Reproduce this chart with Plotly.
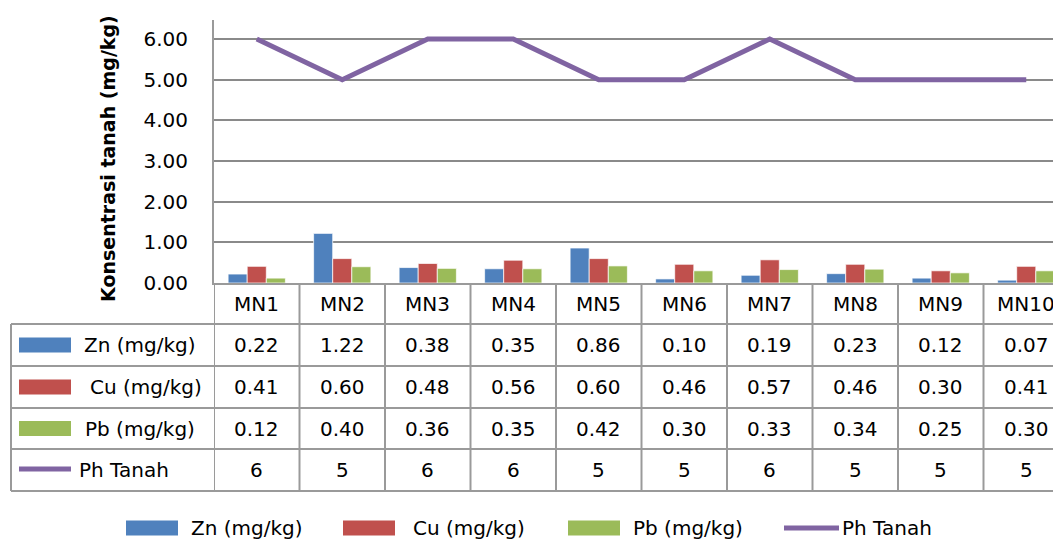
import plotly.graph_objects as go

categories = ["MN1", "MN2", "MN3", "MN4", "MN5", "MN6", "MN7", "MN8", "MN9", "MN10"]
zn = [0.22, 1.22, 0.38, 0.35, 0.86, 0.10, 0.19, 0.23, 0.12, 0.07]
cu = [0.41, 0.60, 0.48, 0.56, 0.60, 0.46, 0.57, 0.46, 0.30, 0.41]
pb = [0.12, 0.40, 0.36, 0.35, 0.42, 0.30, 0.33, 0.34, 0.25, 0.30]
ph = [6, 5, 6, 6, 5, 5, 6, 5, 5, 5]
series_names = ["Zn (mg/kg)", "Cu (mg/kg)", "Pb (mg/kg)", "Ph Tanah"]
y_title = "Konsentrasi tanah (mg/kg)"

colors = ["#4F81BD", "#C0504D", "#9BBB59", "#8064A2"]
FONT = "DejaVu Sans"
W, H = 1053, 541
L, T, B = 214, 20, 283  # plot area in pixels
n = len(categories)
xs = list(range(n))

fig = go.Figure()
for vals, name, col in zip([zn, cu, pb], series_names[:3], colors[:3]):
    fig.add_trace(go.Bar(x=xs, y=vals, name=name, marker=dict(color=col, line=dict(color="rgba(255,255,255,0.7)", width=1)),
                         showlegend=False))
fig.add_trace(go.Scatter(x=xs, y=ph, name=series_names[3], mode="lines",
                         line=dict(color=colors[3], width=5), showlegend=False))

cat_w = 85.5
x_max = -0.5 + (W - L) / cat_w


def py(p):
    return (B - p) / (B - T)


def pxp(p):
    return (p - L) / (W - L)


shapes = []
ann = []
grid = "#9a9a9a"
# table horizontal lines
row_lines = [324, 366, 408, 449, 491]
for yl in row_lines:
    shapes.append(dict(type="line", xref="paper", yref="paper", x0=pxp(11), x1=1.02, y0=py(yl), y1=py(yl),
                       line=dict(color=grid, width=2)))
# vertical lines
for i in range(n + 1):
    shapes.append(dict(type="line", xref="x", yref="paper", x0=i - 0.5, x1=i - 0.5, y0=0, y1=py(491),
                       line=dict(color=grid, width=2)))
shapes.append(dict(type="line", xref="paper", yref="paper", x0=pxp(11), x1=pxp(11), y0=py(324), y1=py(491),
                   line=dict(color=grid, width=2)))

# header labels
for i, c in enumerate(categories):
    ann.append(dict(x=i, y=py(303.5), xref="x", yref="paper", text=c, showarrow=False,
                    font=dict(family=FONT, size=20, color="#000"), xanchor="center", yanchor="middle"))

row_centers = [345, 387, 428.5, 470]
label_x = [82, 88, 83, 77]
for r, (vals, fmt) in enumerate(zip([zn, cu, pb, ph], ["{:.2f}", "{:.2f}", "{:.2f}", "{}"])):
    yc = row_centers[r]
    for i, v in enumerate(vals):
        ann.append(dict(x=i, y=py(yc), xref="x", yref="paper", text=fmt.format(v), showarrow=False,
                        font=dict(family=FONT, size=20, color="#000"), xanchor="center", yanchor="middle"))
    ann.append(dict(x=pxp(label_x[r]), y=py(yc), xref="paper", yref="paper", text=series_names[r], showarrow=False,
                    font=dict(family=FONT, size=20, color="#000"), xanchor="left", yanchor="middle"))
    if r < 3:
        shapes.append(dict(type="rect", xref="paper", yref="paper", x0=pxp(19), x1=pxp(71),
                           y0=py(yc - 7.5), y1=py(yc + 7.5), fillcolor=colors[r], line=dict(width=0)))
    else:
        shapes.append(dict(type="line", xref="paper", yref="paper", x0=pxp(19), x1=pxp(71),
                           y0=py(yc - 1), y1=py(yc - 1), line=dict(color=colors[r], width=5)))

# bottom legend
leg_y = 528
leg_items = [(126, 178, 189), (343, 395, 411), (568, 620, 631), (784, 839, 840)]
for k, (x0, x1, tx) in enumerate(leg_items):
    if k < 3:
        shapes.append(dict(type="rect", xref="paper", yref="paper", x0=pxp(x0), x1=pxp(x1),
                           y0=py(leg_y + 7.5), y1=py(leg_y - 7.5), fillcolor=colors[k], line=dict(width=0)))
    else:
        shapes.append(dict(type="line", xref="paper", yref="paper", x0=pxp(x0), x1=pxp(x1),
                           y0=py(leg_y), y1=py(leg_y), line=dict(color=colors[k], width=5)))
    ann.append(dict(x=pxp(tx), y=py(leg_y), xref="paper", yref="paper", text=series_names[k], showarrow=False,
                    font=dict(family=FONT, size=20, color="#000"), xanchor="left", yanchor="middle"))

# y title
ann.append(dict(x=pxp(108), y=py(158), xref="paper", yref="paper", text="<b>" + y_title + "</b>", textangle=-90,
                showarrow=False, font=dict(family=FONT, size=19, color="#000"), xanchor="center", yanchor="middle"))

fig.update_layout(
    width=W, height=H,
    margin=dict(l=L, r=0, t=T, b=H - B, pad=0),
    paper_bgcolor="white", plot_bgcolor="white",
    barmode="group", bargap=0.33, bargroupgap=0,
    shapes=shapes, annotations=ann,
    xaxis=dict(range=[-0.5, x_max], showticklabels=False, showgrid=False, zeroline=False,
               showline=True, linecolor=grid, linewidth=2, ticks=""),
    yaxis=dict(range=[0, 6.467], dtick=1, tick0=0, tickformat=".2f", showgrid=True, gridcolor="#8a8a8a",
               gridwidth=1.5, zeroline=False, showline=True, linecolor=grid, linewidth=2, ticks="",
               ticklabelstandoff=20, tickfont=dict(family=FONT, size=20, color="#000")),
    font=dict(family=FONT),
)

fig.write_html("out.html")
